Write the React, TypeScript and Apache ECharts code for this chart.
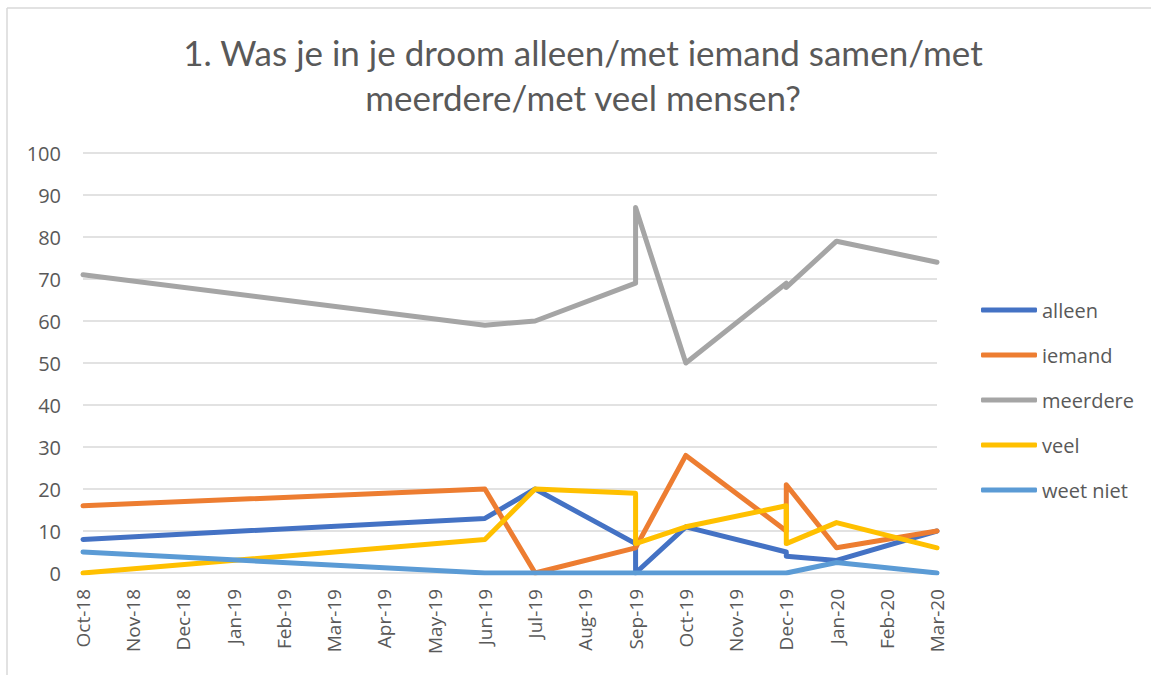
import React, { useEffect, useRef } from "react";
import * as echarts from "echarts";

const months = [
  "Oct-18", "Nov-18", "Dec-18", "Jan-19", "Feb-19", "Mar-19", "Apr-19", "May-19", "Jun-19",
  "Jul-19", "Aug-19", "Sep-19", "Oct-19", "Nov-19", "Dec-19", "Jan-20", "Feb-20", "Mar-20",
];

// survey dates (Sep-19 and Dec-19 appear twice)
const pointDates = [
  "Oct-18", "Jun-19", "Jul-19", "Sep-19", "Sep-19", "Oct-19", "Dec-19", "Dec-19", "Jan-20", "Mar-20",
];

const alleen = [8, 13, 20, 7, 0, 11, 5, 4, 3, 10];
const iemand = [16, 20, 0, 6, 6, 28, 10, 21, 6, 10];
const meerdere = [71, 59, 60, 69, 87, 50, 69, 68, 79, 74];
const veel = [0, 8, 20, 19, 7, 11, 16, 7, 12, 6];
const weetNiet = [5, 0, 0, 0, 0, 0, 0, 0, 2.5, 0];

const seriesNames = ["alleen", "iemand", "meerdere", "veel", "weet niet"];
const seriesValues = [alleen, iemand, meerdere, veel, weetNiet];
const colors = ["#4472C4", "#ED7D31", "#A5A5A5", "#FFC000", "#5B9BD5"];

const titleLines = ["1. Was je in je droom alleen/met iemand samen/met", "meerdere/met veel mensen?"];

const yTicks = { min: 0, max: 100, interval: 10 };

export default function App() {
  const ref = useRef<HTMLDivElement>(null);
  useEffect(() => {
    if (!ref.current) return;
    const chart = echarts.init(ref.current, null, { renderer: "svg" });
    const series = seriesNames.map((name, i) => ({
      name,
      type: "line",
      symbol: "none",
      showSymbol: false,
      data: seriesValues[i].map((v, j) => [months.indexOf(pointDates[j]), v]),
      lineStyle: { width: 5, color: colors[i], cap: "round", join: "round" },
      itemStyle: { color: colors[i] },
      z: 2 + i,
    }));
    chart.setOption({
      animation: false,
      backgroundColor: "#ffffff",
      grid: { left: 83, right: 214, top: 153, bottom: 102, containLabel: false },
      xAxis: {
        type: "value",
        min: 0,
        max: months.length - 1,
        interval: 1,
        axisLine: { show: false },
        axisTick: { show: false },
        splitLine: { show: false },
        axisLabel: {
          rotate: 90,
          margin: 16,
          color: "#595959",
          fontFamily: "Open Sans",
          fontSize: 19,
          formatter: (v: number) => months[Math.round(v)] ?? "",
        },
      },
      yAxis: {
        type: "value",
        min: yTicks.min,
        max: yTicks.max,
        interval: yTicks.interval,
        axisLine: { show: false },
        axisTick: { show: false },
        splitLine: { lineStyle: { color: "#d9d9d9", width: 1.5 } },
        axisLabel: {
          margin: 22,
          color: "#595959",
          fontFamily: "Open Sans",
          fontSize: 20,
        },
      },
      legend: {
        orient: "vertical",
        left: 976,
        top: 295,
        icon: "roundRect",
        itemWidth: 56,
        itemHeight: 5,
        itemGap: 25,
        data: seriesNames,
        textStyle: {
          color: "#595959",
          fontFamily: "Open Sans",
          fontSize: 20,
          padding: [0, 0, 0, 0],
        },
      },
      graphic: [
        { type: "line", shape: { x1: 7, y1: 8, x2: 1151, y2: 8 }, style: { stroke: "#d9d9d9", lineWidth: 1.5 } },
        { type: "line", shape: { x1: 7, y1: 8, x2: 7, y2: 675 }, style: { stroke: "#d9d9d9", lineWidth: 1.5 } },
        ...titleLines.map((t, i) => ({
          type: "text",
          x: 583,
          y: 52 + i * 45,
          style: {
            text: t,
            fill: "#595959",
            font: "35px Lato",
            textAlign: "center",
            textVerticalAlign: "middle",
          },
        })),
      ],
      series,
    });
    return () => chart.dispose();
  }, []);
  return (
    <div style={{ position: "absolute", left: 0, top: 0, width: 1151, height: 675, background: "#fff" }}>
      <div ref={ref} style={{ width: 1151, height: 675 }} />
    </div>
  );
}
